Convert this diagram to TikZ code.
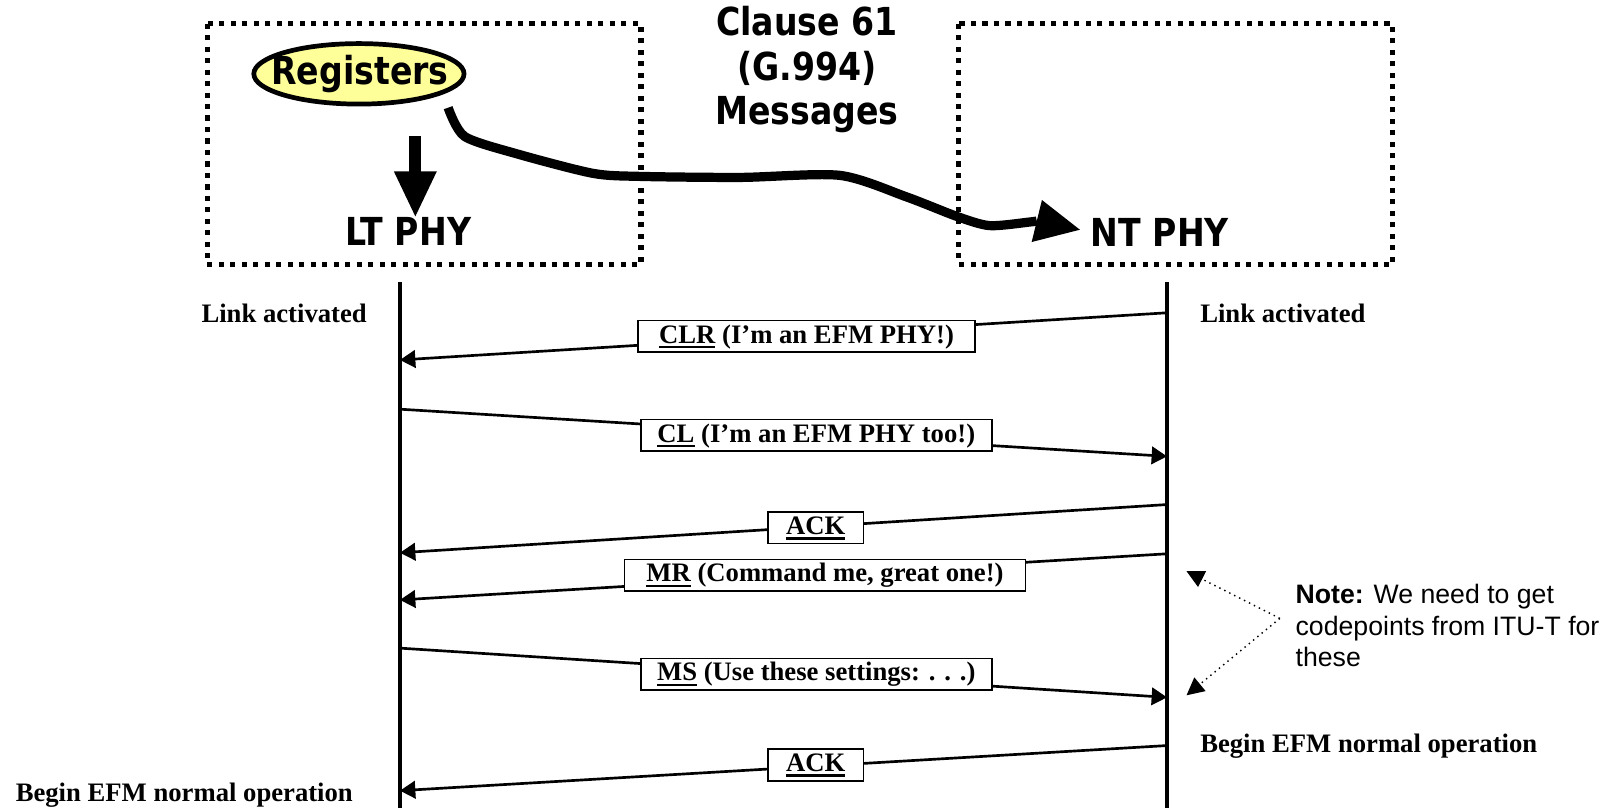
\documentclass[tikz,border=0pt]{standalone}
\usepackage{fontspec}
\setmainfont{Liberation Serif}
\newfontfamily\notefont{Liberation Sans}
\newfontfamily\headfont[FakeStretch=0.86]{DejaVu Sans}
\usetikzlibrary{arrows.meta,shapes.geometric}
\definecolor{regyellow}{HTML}{FFFF99}
\newcommand\mkul[1]{\setbox0\hbox{#1}\rlap{\rule[-2.6pt]{\wd0}{1.3pt}}\box0\relax}
\begin{document}
\begin{tikzpicture}[x=0.5pt,y=-0.5pt,
  dotbox/.style={line width=2.5pt, dash pattern=on 2.5pt off 3.1pt},
  headtxt/.style={font=\headfont\bfseries\fontsize{18.8}{21.75}\selectfont, inner sep=0pt, align=center},
  lbl/.style={font=\bfseries\fontsize{13}{15}\selectfont, inner sep=0pt},
  lifeline/.style={line width=1.6pt},
  msg/.style={line width=1.3pt, -{Triangle[length=7.5pt,width=8.5pt]}},
  msgbox/.style={draw, line width=0.8pt, fill=white, font=\bfseries\fontsize{13}{15}\selectfont,
    minimum height=15.5pt, inner xsep=0pt, inner ysep=0pt, text height=9.5pt, text depth=3pt},
  notearr/.style={line width=0.7pt, dotted, -{Triangle[length=8.5pt,width=8.5pt]}}]
\useasboundingbox (0,0) rectangle (1568,788);

% dotted boxes
\draw[dotbox] (202,23) rectangle (625,258);
\draw[dotbox] (935,23) rectangle (1358,258);

% headings
\filldraw[line width=2.3pt, fill=regyellow] (350,72) ellipse [x radius=51.25pt, y radius=14.75pt];
\node[headtxt] (reg) at (351,72) {Registers};
\node[headtxt] (lt) at (398,226) {LT PHY};
\node[headtxt] (nt) at (1131,227) {NT PHY};
\node[headtxt] (clause) at (787,68) {Clause 61\\(G.994)\\Messages};

% down arrow Registers -> LT PHY
\coordinate (dtop) at (405,133);
\coordinate (dtip) at (405,211);
\fill (399,133) rectangle (411,170);
\fill (384,167) -- (426,167) -- (dtip) -- cycle;

% wavy arrow Registers -> NT PHY
\coordinate (wstart) at (437,105);
\coordinate (wend) at (1011,215.5);
\draw[line width=4.5pt, line join=round] plot[smooth, tension=0.45] coordinates
  {(wstart) (453,133) (504,150) (578,169) (624,172) (722,173) (819,171) (884,192) (933,211) (965,220) (1004,216.5) (wend)};
\fill (1053,224) -- (1016,195) -- (1006,236) -- cycle;

% lifelines
\coordinate (ltop) at (390,275);
\coordinate (lbot) at (390,788);
\coordinate (rtop) at (1138,275);
\coordinate (rbot) at (1138,788);
\draw[lifeline] (ltop) -- (lbot);
\draw[lifeline] (rtop) -- (rbot);

% side labels
\node[lbl, anchor=east] (la) at (358,306) {Link activated};
\node[lbl, anchor=west] (ra) at (1170,306) {Link activated};
\node[lbl, anchor=west] (rb) at (1170,728) {Begin EFM normal operation};
\node[lbl, anchor=west] (lb) at (15,775) {Begin EFM normal operation};

% message endpoints
\coordinate (r1) at (1138,305); \coordinate (l1) at (390,351);
\coordinate (l2) at (390,399); \coordinate (r2) at (1138,445);
\coordinate (r3) at (1138,492); \coordinate (l3) at (390,539);
\coordinate (r4) at (1138,540); \coordinate (l4) at (390,585);
\coordinate (l5) at (390,632); \coordinate (r5) at (1138,680);
\coordinate (r6) at (1138,727); \coordinate (l6) at (390,771);

\draw[msg] (r1) -- (l1);
\draw[msg] (l2) -- (r2);
\draw[msg] (r3) -- (l3);
\draw[msg] (r4) -- (l4);
\draw[msg] (l5) -- (r5);
\draw[msg] (r6) -- (l6);

\node[msgbox, minimum width=164.5pt] (m1) at (786.5,328) {\mkul{CLR} (I’m an EFM PHY!)};
\node[msgbox, minimum width=171pt] (m2) at (796,424.5) {\mkul{CL} (I’m an EFM PHY too!)};
\node[msgbox, minimum width=46.5pt] (m3) at (795.5,514.5) {\mkul{ACK}};
\node[msgbox, minimum width=195.5pt] (m4) at (804.5,561) {\mkul{MR} (Command me, great one!)};
\node[msgbox, minimum width=171pt] (m5) at (796,657.5) {\mkul{MS} (Use these settings: . . .)};
\node[msgbox, minimum width=46.5pt] (m6) at (795.5,746) {\mkul{ACK}};

% note
\node[font=\notefont\fontsize{13}{15.5}\selectfont, anchor=west, align=left, inner sep=0pt] (note) at (1263,610)
  {\textbf{Note:} We need to get\\codepoints from ITU-T for\\these};
\coordinate (nv) at (1248,603);
\coordinate (na) at (1157,557);
\coordinate (nb) at (1157,678);
\draw[notearr] (nv) -- (na);
\draw[notearr] (nv) -- (nb);
\end{tikzpicture}
\end{document}
